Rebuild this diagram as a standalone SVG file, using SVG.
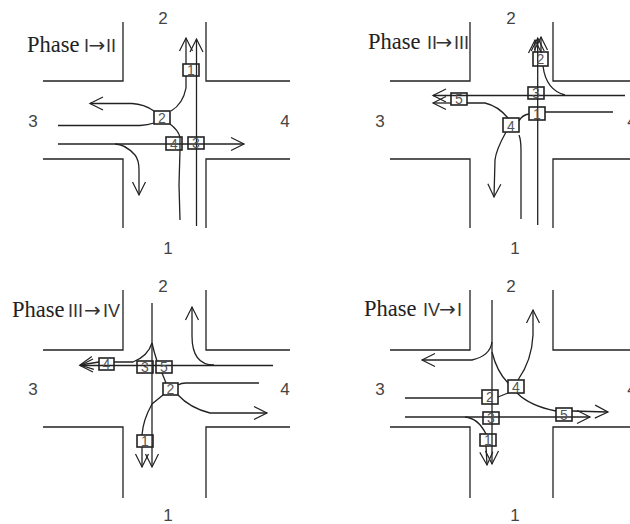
<svg xmlns="http://www.w3.org/2000/svg" width="630" height="524" viewBox="0 0 630 524">
<defs>
<style>
.road{fill:none;stroke:#222;stroke-width:1.3}
.c{fill:none;stroke:#222;stroke-width:1.3}
.a{marker-end:url(#open)}
.box{fill:none;stroke:#222;stroke-width:1.6}
.n{font-family:"Liberation Sans",Arial,sans-serif;font-size:14px;fill:#555;text-anchor:middle}
.d{font-family:"Liberation Sans",Arial,sans-serif;font-size:17px;fill:#444;text-anchor:middle}
.ph{font-family:"Liberation Serif","Times New Roman",serif;font-size:22.5px;fill:#222}
.rm{font-family:"Liberation Sans",Arial,sans-serif;font-size:18px;fill:#333}
.ar{font-family:"DejaVu Sans",sans-serif;font-size:20px;fill:#333}
</style>
<marker id="open" markerUnits="userSpaceOnUse" markerWidth="30" markerHeight="30" refX="15" refY="15" orient="auto" overflow="visible">
<path d="M2,8.5 L15,15 L2,21.5" fill="none" stroke="#222" stroke-width="1.2"/>
</marker>
</defs>
<rect width="630" height="524" fill="#fff"/>

<g id="roads">
<path class="road" d="M123,22V81H43M206,22V81H290M43,159H123V228M290,159H206V228"/>
<path class="road" d="M470,22V81H390M553,22V81H630M390,159H470V228M630,159H553V228"/>
<path class="road" d="M123,290V350H43M206,290V350H290M43,427H123V498M290,427H206V498"/>
<path class="road" d="M470,290V350H390M553,290V350H630M390,427H470V498M630,427H553V498"/>
</g>

<g id="connectors">
<path class="c a" d="M196.500,226V39"/>
<path class="c a" d="M186,64V38"/>
<path class="c" d="M186,76V88Q183,104 171,111"/>
<path class="c a" d="M154,111Q144,104 132,103.500H90"/>
<path class="c" d="M58,125.500H140Q148,125 154,123"/>
<path class="c" d="M170,124Q178,130 180,137V150L179,185L180,220"/>
<path class="c a" d="M58,144H244"/>
<path class="c a" d="M115,144Q125,144 135,155Q139,160 139,170V195"/>

<path class="c a" d="M537.700,225V38"/>
<path class="c a" d="M541,52V37"/>
<path class="c a" d="M535,52V40"/>
<path class="c" d="M543,66Q546,90 565,95"/>
<path class="c a" d="M625,95.500H433"/>
<path class="c a" d="M451,103H433"/>
<path class="c" d="M467,103H485Q498,106 508,118"/>
<path class="c" d="M529,114Q522,115 519,121"/>
<path class="c" d="M545,112H613"/>
<path class="c a" d="M506,132Q496,150 495,160L494,197"/>
<path class="c" d="M519,135Q521,140 521,150V219"/>

<path class="c a" d="M152,303V467"/>
<path class="c a" d="M273,365.500H80"/>
<path class="c a" d="M99,362L80,365"/>
<path class="c" d="M114,362H133Q148,356 152,343"/>
<path class="c" d="M152,343Q154,352 157,361"/>
<path class="c" d="M162,373L166,383"/>
<path class="c" d="M178,385Q181,383 186,383H259"/>
<path class="c a" d="M178,395Q190,408 210,413H267"/>
<path class="c" d="M163,395L152,404Q143,420 142,435"/>
<path class="c a" d="M142,447V467"/>
<path class="c a" d="M214,365Q192,365 192,336V307"/>

<path class="c a" d="M492,300V464"/>
<path class="c a" d="M492,342Q490,356 472,360H422"/>
<path class="c" d="M492,352Q497,372 508,383"/>
<path class="c a" d="M518,380Q532,360 533,335V310"/>
<path class="c" d="M508,393L498,397"/>
<path class="c" d="M405,398H482"/>
<path class="c a" d="M405,417H590"/>
<path class="c a" d="M572,411L608,412"/>
<path class="c" d="M517,393Q530,406 556,411"/>
<path class="c" d="M465,417Q478,418 486,434"/>
<path class="c a" d="M486,446L487,465"/>
</g>

<g id="panel-1">
<text class="ph" x="27" y="51.500">Phase<tspan class="rm" x="84">I</tspan><tspan class="ar" x="88.500">→</tspan><tspan class="rm" x="106">II</tspan></text>
<text class="d" x="163" y="23.500">2</text><text class="d" x="33" y="127">3</text><text class="d" x="285" y="127">4</text><text class="d" x="168" y="254">1</text>
<g id="p1-n1"><rect class="box" x="183" y="64" width="16" height="12"/><text class="n" x="191" y="75">1</text></g>
<g id="p1-n2"><rect class="box" x="154" y="111" width="16" height="13"/><text class="n" x="162" y="123">2</text></g>
<g id="p1-n3"><rect class="box" x="188" y="137" width="16" height="12"/><text class="n" x="196" y="148">3</text></g>
<g id="p1-n4"><rect class="box" x="166" y="137" width="16" height="13"/><text class="n" x="174" y="149">4</text></g>
</g>

<g id="panel-2">
<text class="ph" x="368" y="49">Phase<tspan class="rm" x="427">II</tspan><tspan class="ar" x="435.500">→</tspan><tspan class="rm" x="454">III</tspan></text>
<text class="d" x="511" y="23.500">2</text><text class="d" x="380" y="127">3</text><text class="d" x="632" y="127">4</text><text class="d" x="515" y="254">1</text>
<g id="p2-n1"><rect class="box" x="529" y="107" width="16" height="13"/><text class="n" x="537" y="119">1</text></g>
<g id="p2-n2"><rect class="box" x="533" y="52" width="15" height="14"/><text class="n" x="540.500" y="64">2</text></g>
<g id="p2-n3"><rect class="box" x="528" y="87" width="16" height="12"/><text class="n" x="536" y="98">3</text></g>
<g id="p2-n4"><rect class="box" x="503" y="118" width="16" height="14"/><text class="n" x="511" y="131">4</text></g>
<g id="p2-n5"><rect class="box" x="451" y="93" width="16" height="12"/><text class="n" x="459" y="104">5</text></g>
</g>

<g id="panel-3">
<text class="ph" x="12" y="317">Phase<tspan class="rm" x="68">III</tspan><tspan class="ar" x="84">→</tspan><tspan class="rm" x="103">IV</tspan></text>
<text class="d" x="163" y="292">2</text><text class="d" x="33" y="395">3</text><text class="d" x="285" y="395">4</text><text class="d" x="168" y="521">1</text>
<g id="p3-n1"><rect class="box" x="137" y="435" width="16" height="12"/><text class="n" x="145" y="446">1</text></g>
<g id="p3-n2"><rect class="box" x="163" y="383" width="15" height="12"/><text class="n" x="170.500" y="394">2</text></g>
<g id="p3-n3"><rect class="box" x="137" y="361" width="16" height="12"/><text class="n" x="145" y="372">3</text></g>
<g id="p3-n4"><rect class="box" x="99" y="358" width="15" height="12"/><text class="n" x="106.500" y="369">4</text></g>
<g id="p3-n5"><rect class="box" x="156" y="361" width="16" height="12"/><text class="n" x="164" y="372">5</text></g>
</g>

<g id="panel-4">
<text class="ph" x="364" y="316">Phase<tspan class="rm" x="423">IV</tspan><tspan class="ar" x="439">→</tspan><tspan class="rm" x="457">I</tspan></text>
<text class="d" x="511" y="292">2</text><text class="d" x="380" y="395">3</text><text class="d" x="632" y="395">4</text><text class="d" x="515" y="521">1</text>
<g id="p4-n1"><rect class="box" x="480" y="434" width="16" height="12"/><text class="n" x="488" y="445">1</text></g>
<g id="p4-n2"><rect class="box" x="482" y="390" width="16" height="14"/><text class="n" x="490" y="402">2</text></g>
<g id="p4-n3"><rect class="box" x="483" y="412" width="16" height="12"/><text class="n" x="491" y="423">3</text></g>
<g id="p4-n4"><rect class="box" x="508" y="380" width="16" height="13"/><text class="n" x="516" y="392">4</text></g>
<g id="p4-n5"><rect class="box" x="556" y="408" width="16" height="13"/><text class="n" x="564" y="420">5</text></g>
</g>
</svg>
